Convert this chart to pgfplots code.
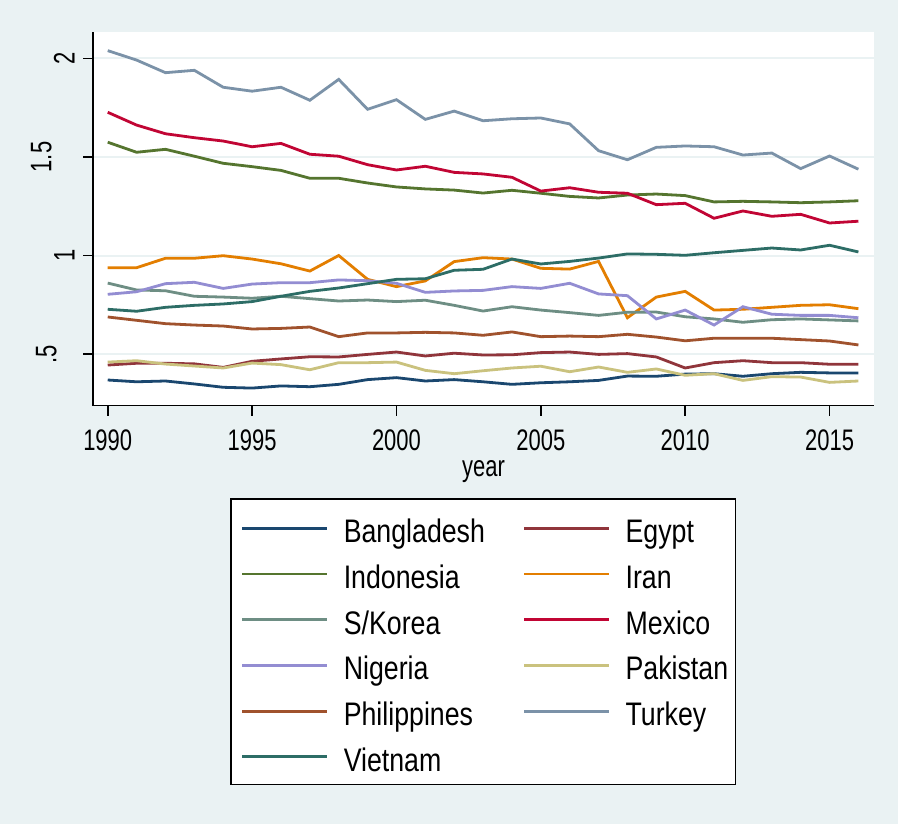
\documentclass[border=0pt]{standalone}
\usepackage{pgfplots}
\pgfplotsset{compat=1.18}
\usepackage{pgfplotstable}
\usepackage{fontspec}
\setmainfont{Liberation Sans}
\newfontfamily\tickfont[FakeStretch=0.74]{Liberation Sans}
\newfontfamily\legfont[FakeStretch=0.82]{Liberation Sans}
\definecolor{bgc}{RGB}{234,242,243}
\definecolor{cnavy}{RGB}{26,71,111}
\definecolor{cmaroon}{RGB}{144,53,59}
\definecolor{cforest}{RGB}{85,117,47}
\definecolor{cdkorange}{RGB}{227,126,0}
\definecolor{cteal}{RGB}{110,142,132}
\definecolor{ccranberry}{RGB}{193,5,52}
\definecolor{clavender}{RGB}{147,141,210}
\definecolor{ckhaki}{RGB}{202,194,126}
\definecolor{csienna}{RGB}{160,82,45}
\definecolor{cemidblue}{RGB}{123,146,168}
\definecolor{cemerald}{RGB}{45,109,102}

\pgfplotstableread{
year Bangladesh Egypt Indonesia Iran Korea Mexico Nigeria Pakistan Philippines Turkey Vietnam
1990 0.368 0.444 1.575 0.938 0.860 1.727 0.803 0.459 0.688 2.040 0.727
1991 0.359 0.453 1.524 0.938 0.825 1.662 0.816 0.466 0.671 1.992 0.717
1992 0.363 0.453 1.539 0.986 0.821 1.618 0.857 0.449 0.654 1.928 0.737
1993 0.348 0.450 1.504 0.986 0.793 1.598 0.864 0.439 0.647 1.940 0.747
1994 0.331 0.432 1.468 0.999 0.789 1.581 0.833 0.429 0.642 1.854 0.754
1995 0.327 0.463 1.451 0.982 0.783 1.552 0.855 0.454 0.627 1.834 0.766
1996 0.338 0.475 1.432 0.958 0.793 1.569 0.862 0.446 0.630 1.854 0.793
1997 0.334 0.486 1.392 0.921 0.781 1.514 0.862 0.420 0.637 1.788 0.818
1998 0.346 0.485 1.392 1.000 0.769 1.504 0.876 0.456 0.588 1.894 0.835
1999 0.370 0.498 1.368 0.879 0.774 1.461 0.872 0.456 0.607 1.742 0.857
2000 0.380 0.510 1.348 0.842 0.766 1.434 0.859 0.459 0.607 1.791 0.879
2001 0.363 0.490 1.338 0.871 0.773 1.453 0.813 0.417 0.610 1.691 0.882
2002 0.370 0.504 1.332 0.969 0.747 1.422 0.820 0.400 0.607 1.733 0.925
2003 0.359 0.495 1.317 0.989 0.718 1.414 0.823 0.415 0.595 1.684 0.930
2004 0.346 0.496 1.331 0.982 0.740 1.397 0.842 0.429 0.612 1.694 0.982
2005 0.354 0.507 1.316 0.935 0.723 1.327 0.833 0.438 0.588 1.698 0.957
2006 0.359 0.510 1.300 0.931 0.710 1.344 0.859 0.410 0.591 1.668 0.970
2007 0.366 0.498 1.292 0.970 0.696 1.321 0.805 0.434 0.588 1.532 0.987
2008 0.388 0.502 1.307 0.684 0.712 1.316 0.796 0.407 0.600 1.486 1.008
2009 0.387 0.485 1.312 0.789 0.713 1.258 0.678 0.424 0.586 1.549 1.006
2010 0.398 0.429 1.304 0.818 0.689 1.265 0.723 0.392 0.567 1.556 1.001
2011 0.400 0.456 1.272 0.723 0.678 1.189 0.647 0.400 0.580 1.552 1.014
2012 0.387 0.466 1.275 0.727 0.661 1.226 0.740 0.366 0.580 1.510 1.026
2013 0.400 0.456 1.272 0.737 0.674 1.199 0.702 0.385 0.580 1.520 1.038
2014 0.407 0.456 1.268 0.747 0.678 1.209 0.696 0.383 0.573 1.441 1.028
2015 0.404 0.448 1.272 0.750 0.673 1.165 0.696 0.356 0.566 1.505 1.052
2016 0.404 0.448 1.278 0.730 0.668 1.174 0.684 0.363 0.546 1.438 1.018
}\data

\begin{document}
\begin{tikzpicture}
\fill[bgc] (0,0) rectangle (449pt,412pt);
\useasboundingbox (0,0) rectangle (449pt,412pt);
\fill[white,draw=black,line width=0.75pt] (115.5pt,19.85pt) rectangle (367.85pt,162.5pt);
\begin{axis}[
  at={(46.5pt,209.15pt)}, anchor=south west,
  scale only axis, width=390.5pt, height=186.85pt,
  xmin=1989.49, xmax=2016.54, ymin=0.2376, ymax=2.1345,
  axis background/.style={fill=white},
  axis x line*=bottom, axis y line*=left,
  axis line style={black, line width=0.8pt, -},
  xtick={1990,1995,2000,2005,2010,2015},
  xticklabels={1990,1995,2000,2005,2010,2015},
  ytick={0.5,1,1.5,2},
  yticklabels={\raisebox{9.15pt}{.5},1,\raisebox{11.65pt}{1.5},2},
  minor tick num=0,
  tick align=outside, major tick length=5pt,
  tick style={black, line width=0.8pt},
  ymajorgrids, grid style={bgc, line width=1pt},
  /pgf/number format/assume math mode=true,
  ticklabel style={font=\tickfont\fontsize{14.85pt}{16pt}\selectfont, inner sep=0pt},
  xticklabel style={anchor=base, yshift=-17.5pt},
  yticklabel style={anchor=base, xshift=-4.15pt, rotate=90},
  xlabel={year},
  xlabel style={font=\tickfont\fontsize{14.85pt}{16pt}\selectfont, inner sep=0pt,
    at={(axis description cs:0.5,0)}, anchor=base, yshift=-35.5pt},
  legend columns=2,
  legend style={at={(axis description cs:0.1895,-0.3024)}, anchor=north west,
    draw=none, fill=none, inner sep=0pt, outer sep=0pt, row sep=7.35pt,
    font=\legfont\fontsize{16.3pt}{18pt}\selectfont,
    cells={anchor=base west},
    nodes={inner sep=0pt, text height=12pt, text depth=3.5pt, text width=80pt, align=left, anchor=base west},
    /tikz/every odd column/.style={column sep=7.5pt},
    /tikz/every even column/.style={column sep=9.5pt}},
  legend image code/.code={\draw[#1, line width=1.4pt] (0pt,7.2pt) -- (42.5pt,7.2pt);},
  every axis plot/.append style={line width=1.4pt, mark=none},
]
\addplot[cnavy] table[x=year,y=Bangladesh]{\data};
\addlegendentry{Bangladesh}
\addplot[cmaroon] table[x=year,y=Egypt]{\data};
\addlegendentry{Egypt}
\addplot[cforest] table[x=year,y=Indonesia]{\data};
\addlegendentry{Indonesia}
\addplot[cdkorange] table[x=year,y=Iran]{\data};
\addlegendentry{Iran}
\addplot[cteal] table[x=year,y=Korea]{\data};
\addlegendentry{S/Korea}
\addplot[ccranberry] table[x=year,y=Mexico]{\data};
\addlegendentry{Mexico}
\addplot[clavender] table[x=year,y=Nigeria]{\data};
\addlegendentry{Nigeria}
\addplot[ckhaki] table[x=year,y=Pakistan]{\data};
\addlegendentry{Pakistan}
\addplot[csienna] table[x=year,y=Philippines]{\data};
\addlegendentry{Philippines}
\addplot[cemidblue] table[x=year,y=Turkey]{\data};
\addlegendentry{Turkey}
\addplot[cemerald] table[x=year,y=Vietnam]{\data};
\addlegendentry{Vietnam}
\end{axis}
\end{tikzpicture}
\end{document}
